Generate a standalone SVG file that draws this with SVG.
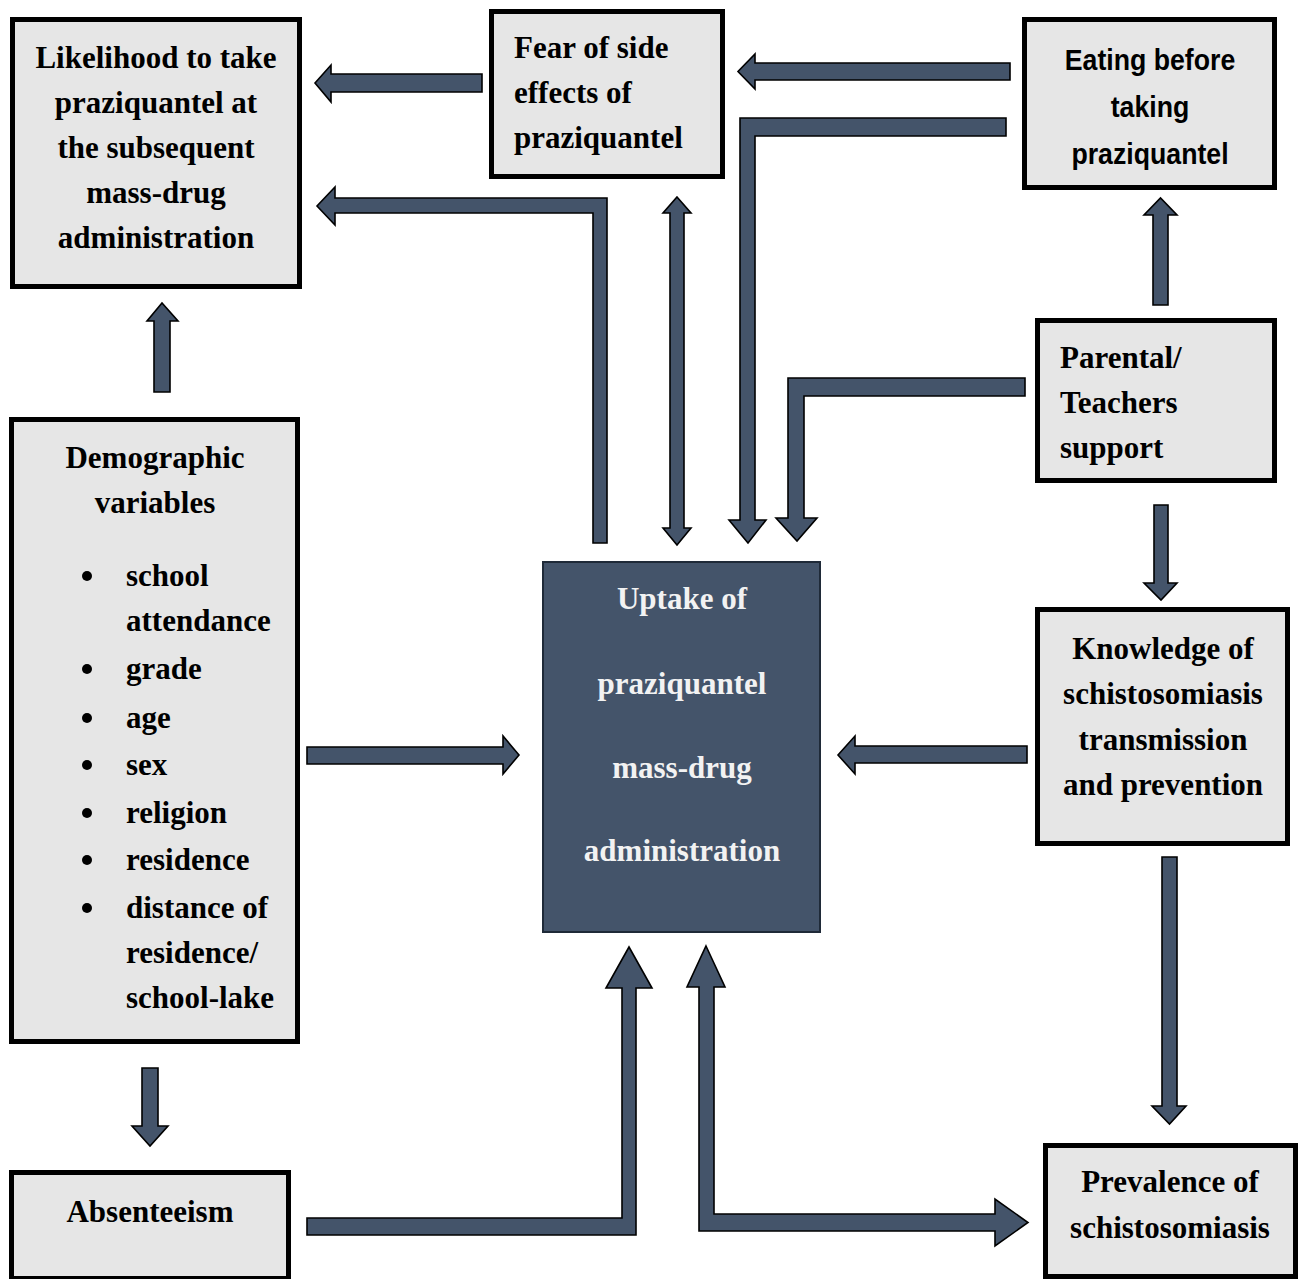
<svg xmlns="http://www.w3.org/2000/svg" width="1304" height="1279" viewBox="0 0 1304 1279">
<style>
.box{fill:#e6e6e6;stroke:#000;stroke-width:5}
.dark{fill:#44546a;stroke:#1f2a38;stroke-width:2}
.arr{fill:#44546a;stroke:#000;stroke-width:1.6;stroke-linejoin:miter}
.t{font-family:"Liberation Serif","Times New Roman",serif;font-weight:bold;font-size:31px;fill:#000}
.c{text-anchor:middle}
.w{fill:#f2f2f2}
.s{font-family:"Liberation Sans",Arial,sans-serif;font-weight:bold;font-size:30px;fill:#000;text-anchor:middle}
</style>
<rect width="1304" height="1279" fill="#fff"/>
<g id="connectors">
<polygon class="arr" points="482,74 331,74 331,65 315,83 331,102 331,92 482,92"/>
<polygon class="arr" points="1010,63 755,63 755,54 738,71.5 755,89 755,80 1010,80"/>
<polygon class="arr" points="1006,118 740,118 740,520 729,520 748,543 766,520 755,520 755,136 1006,136"/>
<polygon class="arr" points="1025,378 788,378 788,518 776,518 797,541 817,518 804,518 804,396 1025,396"/>
<polygon class="arr" points="607,543 607,198 335,198 335,187 317,206 335,225 335,213 593,213 593,543"/>
<polygon class="arr" points="677,197 691,213 684,213 684,528 691,528 677,545 663,528 670,528 670,213 663,213"/>
<polygon class="arr" points="154,392 154,321 147,321 162,303 178,321 170,321 170,392"/>
<polygon class="arr" points="307,747 503,747 503,736 519,755 503,774 503,764 307,764"/>
<polygon class="arr" points="1027,746 855,746 855,736 838,755 855,774 855,763 1027,763"/>
<polygon class="arr" points="142,1068 158,1068 158,1126 168,1126 150,1146 132,1126 142,1126"/>
<polygon class="arr" points="307,1218 622,1218 622,988 606,988 629,947 652,988 636,988 636,1235 307,1235"/>
<polygon class="arr" points="706,946 725,987 714,987 714,1214 995,1214 995,1199 1028,1222.5 995,1246 995,1231 699,1231 699,987 687,987"/>
<polygon class="arr" points="1153,305 1153,215 1144,215 1160.5,198 1177,215 1168,215 1168,305"/>
<polygon class="arr" points="1154,505 1168,505 1168,583 1177,583 1161,600 1144,583 1154,583"/>
<polygon class="arr" points="1162,857 1177,857 1177,1106 1186,1106 1169.5,1124 1152,1106 1162,1106"/>
</g>
<g id="likelihood">
<rect class="box" x="12.5" y="19.5" width="287" height="267"/>
<text class="t c" x="156" y="68">Likelihood to take</text>
<text class="t c" x="156" y="113">praziquantel at</text>
<text class="t c" x="156" y="158">the subsequent</text>
<text class="t c" x="156" y="203">mass-drug</text>
<text class="t c" x="156" y="248">administration</text>
</g>
<g id="fear">
<rect class="box" x="491.5" y="11.5" width="231" height="165"/>
<text class="t" x="514" y="58">Fear of side</text>
<text class="t" x="514" y="103">effects of</text>
<text class="t" x="514" y="148">praziquantel</text>
</g>
<g id="eating">
<rect class="box" x="1024.5" y="19.5" width="250" height="168"/>
<text class="s" transform="translate(1150,70) scale(0.89,1)">Eating before</text>
<text class="s" transform="translate(1150,117) scale(0.89,1)">taking</text>
<text class="s" transform="translate(1150,164) scale(0.89,1)">praziquantel</text>
</g>
<g id="parental">
<rect class="box" x="1037.5" y="320.5" width="237" height="160"/>
<text class="t" x="1060" y="368">Parental/</text>
<text class="t" x="1060" y="413">Teachers</text>
<text class="t" x="1060" y="458">support</text>
</g>
<g id="knowledge">
<rect class="box" x="1037.5" y="609.5" width="250" height="234"/>
<text class="t c" x="1163" y="659">Knowledge of</text>
<text class="t c" x="1163" y="704">schistosomiasis</text>
<text class="t c" x="1163" y="750">transmission</text>
<text class="t c" x="1163" y="795">and prevention</text>
</g>
<g id="prevalence">
<rect class="box" x="1045.5" y="1145.5" width="250" height="131"/>
<text class="t c" x="1170" y="1192">Prevalence of</text>
<text class="t c" x="1170" y="1238">schistosomiasis</text>
</g>
<g id="demographic">
<rect class="box" x="11.5" y="419.5" width="286" height="622"/>
<text class="t c" x="155" y="468">Demographic</text>
<text class="t c" x="155" y="513">variables</text>
<g fill="#000">
<circle cx="87" cy="576" r="5"/>
<circle cx="87" cy="669" r="5"/>
<circle cx="87" cy="718" r="5"/>
<circle cx="87" cy="765" r="5"/>
<circle cx="87" cy="813" r="5"/>
<circle cx="87" cy="860" r="5"/>
<circle cx="87" cy="908" r="5"/>
</g>
<text class="t" x="126" y="586">school</text>
<text class="t" x="126" y="631">attendance</text>
<text class="t" x="126" y="679">grade</text>
<text class="t" x="126" y="728">age</text>
<text class="t" x="126" y="775">sex</text>
<text class="t" x="126" y="823">religion</text>
<text class="t" x="126" y="870">residence</text>
<text class="t" x="126" y="918">distance of</text>
<text class="t" x="126" y="963">residence/</text>
<text class="t" x="126" y="1008">school-lake</text>
</g>
<g id="absenteeism">
<rect class="box" x="11.5" y="1172.5" width="277" height="106"/>
<text class="t c" x="150" y="1222">Absenteeism</text>
</g>
<g id="uptake">
<rect class="dark" x="543" y="562" width="277" height="370"/>
<text class="t c w" x="682" y="609">Uptake of</text>
<text class="t c w" x="682" y="694">praziquantel</text>
<text class="t c w" x="682" y="778">mass-drug</text>
<text class="t c w" x="682" y="861">administration</text>
</g>
</svg>
